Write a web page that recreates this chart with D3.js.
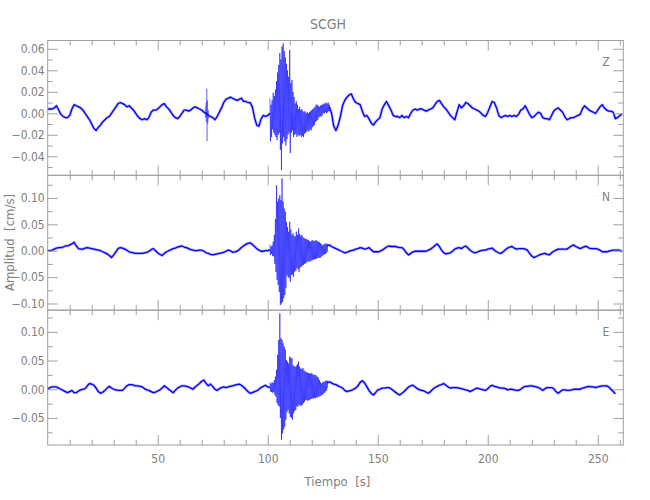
<!DOCTYPE html>
<html><head><meta charset="utf-8">
<script src="https://cdn.jsdelivr.net/npm/d3@7"></script>
<style>
html,body{margin:0;padding:0;background:#fff;}
svg text{font-family:"Liberation Sans Narrow","DejaVu Sans Condensed","Arial Narrow",sans-serif;fill:#808080;}
</style></head><body>
<svg id="chart" width="650" height="500"></svg>
<script>
// ---------------- DATA ----------------
const stationName = "SCGH";
const components = ["Z", "N", "E"];
const xLabel = "Tiempo  [s]";
const yLabel = "Amplitud  [cm/s]";
const timeDomain = [0, 261.6];
const xMajorTicks = [50, 100, 150, 200, 250];
const xMinorTicks = [10, 20, 30, 40, 60, 70, 80, 90, 110, 120, 130, 140, 160, 170, 180, 190, 210, 220, 230, 240, 260];

// y domains per panel
const zDomain = [-0.0577, 0.0677];
const nDomain = [-0.1126, 0.1428];
const eDomain = [-0.0971, 0.1378];
const zMajorTicks = [-0.04, -0.02, 0.00, 0.02, 0.04, 0.06];
const zMinorTicks = [-0.05, -0.03, -0.01, 0.01, 0.03, 0.05];
const nMajorTicks = [-0.10, -0.05, 0.00, 0.05, 0.10];
const nMinorTicks = [-0.075, -0.025, 0.025, 0.075, 0.125];
const eMajorTicks = [-0.05, 0.00, 0.05, 0.10];
const eMinorTicks = [-0.075, -0.025, 0.025, 0.075, 0.125];

// trace (1-second samples, starting at t = 0 s)
const zTrace = [
 .004,.004,.004,.005,.007,.003,-.001,-.003,-.004,-.004,
 -.002,.004,.008,.007,.006,.005,.003,.000,-.003,-.006,
 -.010,-.014,-.016,-.013,-.011,-.008,-.006,-.004,-.003,.000,
 .003,.006,.009,.010,.009,.008,.006,.007,.005,.003,
 .000,-.003,-.005,-.006,-.005,-.006,-.004,.001,.003,.003,
 .004,.006,.008,.009,.006,.004,.001,-.002,-.004,-.005,
 -.003,.000,.003,.003,.002,.003,.005,.006,.005,.004,
 .003,.001,.000,-.002,-.003,-.004,-.006,-.003,.001,.005,
 .010,.013,.014,.015,.014,.013,.012,.013,.014,.011,
 .011,.010,.010,.006,-.004,-.011,-.012,-.005,-.002,-.003,
 -.002,.000,.002,.004,.006,.008,.010,.010,.008,.006,
 .002,.000,-.004,-.008,-.010,-.010,-.009,-.008,-.008,-.007,
 -.004,.000,.002,.002,.001,.004,.004,.006,.006,.000,
 -.012,-.016,-.011,-.003,.007,.012,.015,.017,.018,.013,
 .010,.009,.008,.002,-.003,-.002,-.005,-.009,-.011,-.008,
 -.006,-.004,.004,.008,.011,.007,.003,-.002,-.003,-.003,
 -.004,-.002,-.004,-.003,-.004,.000,.003,.004,.003,.004,
 .004,.003,.002,.003,.004,.005,.008,.011,.012,.009,
 .006,.004,.001,-.002,-.004,-.006,.001,.008,.005,.007,
 .010,.009,.007,.005,.004,.003,.002,.000,-.002,-.003,
 .001,.006,.011,.010,.005,-.002,-.004,-.003,-.002,-.003,
 -.002,-.003,-.002,-.003,-.001,.003,.004,.007,.003,-.001,
 -.004,-.003,-.001,.001,.000,-.004,-.005,-.005,-.006,-.002,
 .002,.004,.005,.003,.001,-.003,-.006,-.005,-.004,-.004,
 -.003,-.002,-.001,.004,.007,.005,.003,.002,.001,.000,
 .003,.006,.008,.005,.003,.002,.002,.001,-.005,-.004,
 -.002,-.001];
const nTrace = [
 .000,.000,.001,.003,.005,.006,.006,.007,.009,.009,
 .011,.013,.016,.009,.004,.003,.003,.005,.006,.005,
 .004,.003,.002,.001,.000,-.002,-.004,-.006,-.009,-.013,
 -.008,-.002,.004,.006,.005,.003,.001,-.002,-.003,-.004,
 -.005,-.005,-.005,-.005,-.004,-.003,-.001,.002,.004,.000,
 -.004,-.007,-.009,-.005,-.002,.000,.002,.004,.005,.007,
 .008,.009,.007,.006,.004,.002,.001,.000,.000,.001,
 .001,-.001,-.004,-.005,-.007,-.008,-.007,-.006,-.005,-.004,
 -.003,-.001,.001,.000,-.003,-.002,-.001,.002,.006,.009,
 .012,.014,.015,.012,.008,.004,.001,-.001,-.001,.000,
 .000,.002,.001,.002,.004,.004,.005,.004,.003,.003,
 .002,.001,.001,.001,.001,.000,.000,.001,.000,.000,
 .001,.002,.000,-.001,-.001,.004,.006,.009,.011,.008,
 .006,.004,.002,.000,-.002,-.004,-.003,-.001,.000,.001,
 .003,.004,.006,.005,.003,.004,.006,.002,-.002,-.002,
 -.002,-.001,.001,.004,.007,.009,.008,.008,.008,.007,
 .006,.006,.002,-.004,-.008,-.005,-.002,-.001,-.001,-.001,
 -.001,-.001,-.001,.001,.003,.006,.010,.013,.008,.001,
 -.004,-.006,-.005,-.004,-.001,.003,.005,.006,.004,.007,
 .009,.005,.001,-.002,-.004,-.003,-.001,.000,.001,.001,
 .003,.004,.005,.001,-.002,-.004,-.005,-.002,.002,.005,
 .007,.008,.005,.003,.004,.004,.004,.003,.001,-.005,
 -.010,-.013,-.011,-.009,-.007,-.006,-.005,-.007,-.008,-.004,
 -.001,.001,.003,.003,.003,.003,.003,.006,.009,.011,
 .008,.006,.004,.006,.008,.008,.005,.004,.004,.004,
 .003,.001,-.002,-.002,-.002,-.001,.000,.001,.001,.001,
 .001,-.002];
const eTrace = [
 .000,.003,.004,.004,.004,.002,.000,-.002,-.004,-.006,
 -.004,-.002,-.006,-.006,-.003,-.001,.000,.001,.006,.010,
 .009,.007,.002,-.004,-.007,-.005,-.002,.002,.005,.002,
 .000,-.001,-.002,-.002,-.002,.002,.006,.008,.008,.007,
 .006,.006,.005,.004,.001,-.001,-.002,-.004,-.006,-.005,
 -.003,-.001,.002,.006,.003,.000,-.003,-.006,-.002,.002,
 .004,.006,.006,.005,.004,.002,.000,.004,.007,.010,
 .014,.016,.010,.006,.009,.005,.000,-.002,.001,.003,
 .004,.003,.004,.005,.006,.007,.008,.009,.007,.004,
 .000,-.004,-.007,-.006,-.004,-.003,.000,.003,.005,.007,
 .004,.003,.003,.004,.004,.004,.003,.002,.002,.002,
 .002,.002,.003,.003,.003,.004,.005,.006,.006,.006,
 .007,.007,.007,.003,.000,.004,.008,.011,.013,.011,
 .009,.008,.006,.004,.002,-.002,-.004,-.003,-.002,.000,
 .002,.006,.012,.015,.011,.005,-.002,-.007,-.010,-.006,
 -.001,.000,.002,.002,.003,.003,.001,-.002,-.005,-.008,
 -.010,-.007,-.004,.000,.004,.006,.007,.004,.001,-.001,
 -.002,-.003,-.005,-.007,-.004,.000,.003,.005,.007,.008,
 .010,.007,.004,.002,.003,.003,.003,.002,.001,.000,
 -.001,-.002,-.004,-.002,.000,.002,.001,.000,-.001,-.002,
 .001,.005,.007,.005,.004,.003,.002,.002,.001,-.001,
 .000,.000,-.001,-.002,-.002,.000,.003,.005,.005,.006,
 .006,.005,.004,.003,.001,-.002,.001,.003,.003,.003,
 .001,-.004,-.007,-.004,-.001,-.001,-.002,-.002,-.001,.000,
 .000,.000,.000,.002,.003,.004,.005,.004,.004,.003,
 .004,.005,.006,.006,.006,.004,.000,-.004,-.008];

// strong-motion part: upper / lower excursions every 0.5 s
const zBurstStart = 101;
const zBurstHi = [.014,.008,.012,.019,.016,.022,.030,.038,.045,.056,.050,.062,.065,.058,.052,.046,.040,.034,.059,.028,
 .031,.020,.015,.009,.011,.008,.004,.006,.003,.004,.002,.001,.002,.000,.001,.000,.001,.002,.003,.004,
 .005,.006,.008,.008,.007,.006,.007,.008,.008,.009,.009,.010,.009,.010,.008];
const zBurstLo = [-.026,-.022,-.015,-.018,-.020,-.022,-.025,-.020,-.018,-.034,-.053,-.028,-.022,-.026,-.030,-.024,-.020,-.018,-.037,-.018,
 -.016,-.022,-.020,-.019,-.022,-.020,-.021,-.020,-.022,-.021,-.022,-.019,-.018,-.017,-.016,-.017,-.015,-.016,-.013,-.012,
 -.011,-.008,-.007,-.006,-.004,-.003,-.003,-.002,.000,.000,.001,.000,.001,.002,.002];
const nBurstStart = 101;
const nBurstHi = [.012,.008,.010,.017,.030,.060,.124,.093,.099,.105,.096,.137,.093,.080,.074,.055,.045,.036,.055,.040,
 .030,.033,.028,.027,.036,.030,.042,.032,.028,.030,.026,.024,.023,.022,.021,.020,.018,.017,.019,.020,
 .018,.019,.020,.018,.017,.016,.014,.012,.010,.012,.013,.014,.013];
const nBurstLo = [-.008,-.006,-.010,-.011,-.025,-.040,-.055,-.065,-.078,-.103,-.100,-.097,-.090,-.084,-.071,-.046,-.050,-.052,-.059,-.046,
 -.045,-.049,-.040,-.038,-.033,-.035,-.040,-.032,-.030,-.028,-.027,-.025,-.024,-.022,-.020,-.021,-.020,-.019,-.018,-.017,
 -.016,-.016,-.015,-.014,-.013,-.014,-.012,-.010,-.008,-.007,-.006,-.004,-.002];
const eBurstStart = 101;
const eBurstHi = [.012,.010,.012,.011,.016,.022,.034,.060,.086,.132,.089,.086,.080,.074,.069,.051,.048,.045,.057,.055,
 .054,.042,.040,.039,.041,.044,.048,.039,.036,.035,.037,.033,.031,.030,.029,.028,.028,.027,.028,.026,
 .025,.025,.024,.022,.020,.016,.012,.010,.012,.013,.014,.015,.015];
const eBurstLo = [-.004,-.005,-.006,-.005,-.010,-.013,-.024,-.028,-.030,-.050,-.088,-.077,-.070,-.065,-.053,-.040,-.036,-.042,-.048,-.050,
 -.053,-.042,-.038,-.036,-.030,-.030,-.027,-.029,-.028,-.027,-.024,-.022,-.019,-.019,-.020,-.019,-.018,-.017,-.016,-.016,
 -.015,-.016,-.014,-.014,-.013,-.012,-.011,-.010,-.008,-.006,-.004,-.002,.002];
// isolated spike on Z near 72 s
const zSpikeTimes = [71.5, 72.0, 72.3, 72.6, 73.0];
const zSpikeHi = [.006, .010, .023, .012, .003];
const zSpikeLo = [-.004, -.008, -.026, -.010, -.005];

// ---------------- LAYOUT ----------------
const svg = d3.select("#chart");
const plotLeft = 47.7, plotRight = 623.3, plotTop = 40.5, panelH = 134.83;
const lineColor = "#a0a0a0", traceColor = "#0000ff";
const x = d3.scaleLinear().domain(timeDomain).range([plotLeft, plotRight]);

const panels = [
  {name: components[0], trace: zTrace, domain: zDomain, major: zMajorTicks, minor: zMinorTicks,
   bStart: zBurstStart, bHi: zBurstHi, bLo: zBurstLo, spike: true},
  {name: components[1], trace: nTrace, domain: nDomain, major: nMajorTicks, minor: nMinorTicks,
   bStart: nBurstStart, bHi: nBurstHi, bLo: nBurstLo},
  {name: components[2], trace: eTrace, domain: eDomain, major: eMajorTicks, minor: eMinorTicks,
   bStart: eBurstStart, bHi: eBurstHi, bLo: eBurstLo}
];

const fmt = v => (v < 0 ? "\u2212" : "") + Math.abs(v).toFixed(2);

function styleAxis(g) {
  g.select(".domain").remove();
  g.selectAll(".tick line").attr("stroke", lineColor).attr("stroke-width", 1);
  g.selectAll(".tick text").attr("fill", "#808080").style("font-size", "12px")
    .style("font-family", '"Liberation Sans Narrow","DejaVu Sans Condensed",sans-serif');
}

panels.forEach((p, k) => {
  const y0 = plotTop + k * panelH, y1 = y0 + panelH;
  const y = d3.scaleLinear().domain(p.domain).range([y1, y0]);
  const g = svg.append("g");
  const bEnd = p.bStart + (p.bHi.length - 1) * 0.5;

  // trace: 1-s samples (the strong-motion window is drawn separately)
  const line = d3.line().x((d, i) => x(i)).y(d => y(d))
    .defined((d, i) => i <= p.bStart || i >= bEnd);
  g.append("path").datum(p.trace).attr("d", line)
    .attr("fill", "none").attr("stroke", traceColor).attr("stroke-opacity", 0.3)
    .attr("stroke-width", 2.8).attr("stroke-linejoin", "round");
  g.append("path").datum(p.trace).attr("d", line)
    .attr("fill", "none").attr("stroke", traceColor)
    .attr("stroke-width", 1.3).attr("stroke-linejoin", "round");

  // strong motion: alternate upper / lower excursions
  const pts = [];
  p.bHi.forEach((h, i) => {
    const t = p.bStart + i * 0.5;
    pts.push([t, h]);
    pts.push([t + 0.25, p.bLo[i]]);
  });
  const zig = d3.line().x(d => x(d[0])).y(d => y(d[1]));
  g.append("path").datum(pts).attr("d", zig)
    .attr("fill", "none").attr("stroke", traceColor).attr("stroke-opacity", 0.8)
    .attr("stroke-width", 0.7);

  if (p.spike) {
    const sp = [];
    zSpikeTimes.forEach((t, i) => { sp.push([t, zSpikeHi[i]]); sp.push([t + 0.12, zSpikeLo[i]]); });
    g.append("path").datum(sp).attr("d", zig)
      .attr("fill", "none").attr("stroke", traceColor).attr("stroke-opacity", 0.5)
      .attr("stroke-width", 0.7);
  }

  // frame
  g.append("rect").attr("x", plotLeft).attr("y", y0).attr("width", plotRight - plotLeft).attr("height", panelH)
    .attr("fill", "none").attr("stroke", lineColor).attr("stroke-width", 1);

  // y axes
  g.append("g").attr("transform", `translate(${plotLeft},0)`)
    .call(d3.axisLeft(y).tickValues(p.major).tickSize(-10).tickPadding(3).tickFormat(fmt)).call(styleAxis);
  g.append("g").attr("transform", `translate(${plotLeft},0)`)
    .call(d3.axisLeft(y).tickValues(p.minor).tickSize(-5).tickFormat("")).call(styleAxis);
  g.append("g").attr("transform", `translate(${plotRight},0)`)
    .call(d3.axisRight(y).tickValues(p.major).tickSize(-10).tickFormat("")).call(styleAxis);
  g.append("g").attr("transform", `translate(${plotRight},0)`)
    .call(d3.axisRight(y).tickValues(p.minor).tickSize(-5).tickFormat("")).call(styleAxis);

  // x axes (top & bottom of each panel)
  g.append("g").attr("transform", `translate(0,${y0})`)
    .call(d3.axisTop(x).tickValues(xMajorTicks).tickSize(-10).tickFormat("")).call(styleAxis);
  g.append("g").attr("transform", `translate(0,${y0})`)
    .call(d3.axisTop(x).tickValues(xMinorTicks).tickSize(-5).tickFormat("")).call(styleAxis);
  const isLast = k === panels.length - 1;
  g.append("g").attr("transform", `translate(0,${y1})`)
    .call(d3.axisBottom(x).tickValues(xMajorTicks).tickSize(-10).tickPadding(9)
      .tickFormat(isLast ? d3.format("d") : "")).call(styleAxis);
  g.append("g").attr("transform", `translate(0,${y1})`)
    .call(d3.axisBottom(x).tickValues(xMinorTicks).tickSize(-5).tickFormat("")).call(styleAxis);

  // component label
  g.append("text").attr("x", 606).attr("y", y0 + 25.5).attr("text-anchor", "middle")
    .style("font-size", "12px").text(p.name);
});

// titles
svg.append("text").attr("x", 328).attr("y", 28.5).attr("text-anchor", "middle")
  .style("font-size", "14px").text(stationName);
svg.append("text").attr("x", 337.5).attr("y", 486).attr("text-anchor", "middle")
  .style("font-size", "13px").style("white-space", "pre").text(xLabel);
svg.append("text").attr("transform", "translate(14,242.5) rotate(-90)").attr("text-anchor", "middle")
  .style("font-size", "13px").style("white-space", "pre").text(yLabel);
</script>
</body></html>
